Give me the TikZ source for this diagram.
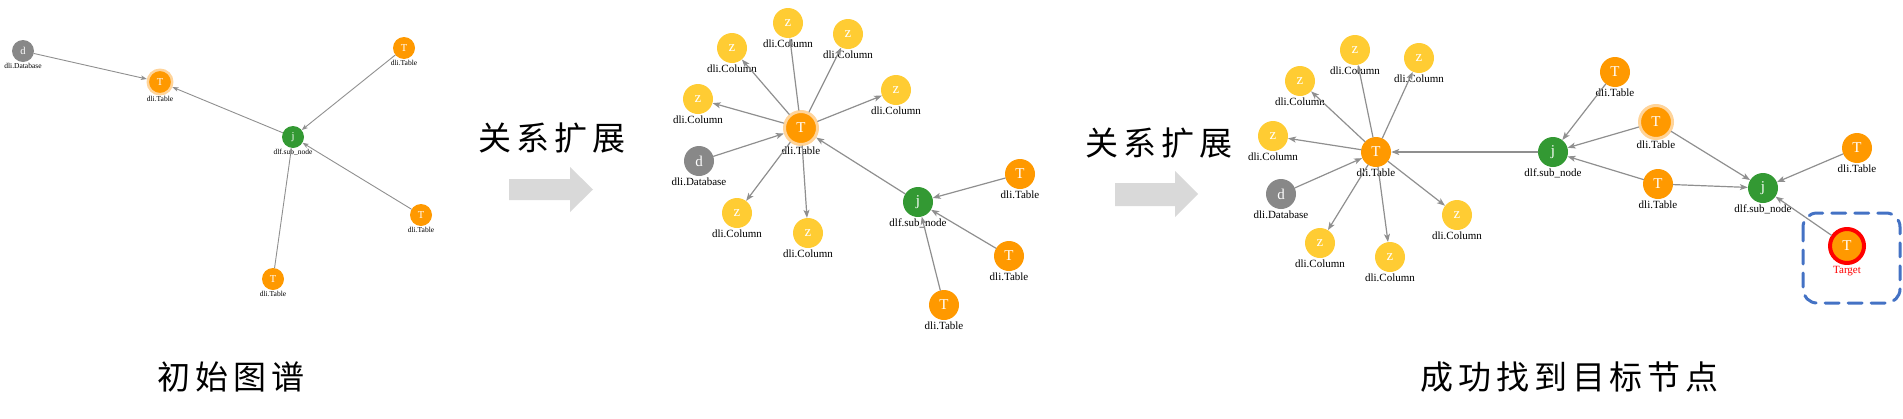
\documentclass[tikz,border=0pt]{standalone}
\usepackage{fontspec}
\setmainfont{Liberation Serif}
\newfontfamily\cjk{Noto Sans CJK SC}[LetterSpace=15]
\usepackage{xcolor}
\usetikzlibrary{arrows.meta}

\definecolor{tblorange}{HTML}{FF9900}
\definecolor{colyellow}{HTML}{FFCC33}
\definecolor{dbgray}{HTML}{888888}
\definecolor{subgreen}{HTML}{339933}
\definecolor{edgegray}{HTML}{8F8F8F}
\definecolor{haloorange}{HTML}{FFD49A}
\definecolor{boxblue}{HTML}{4472C4}
\definecolor{arrowgray}{HTML}{D9D9D9}

\tikzset{
    vert/.style={circle, inner sep=0pt, minimum size=30pt, text=white,
        font=\fontsize{15}{15}\selectfont, label distance=5pt},
    svert/.style={circle, inner sep=0pt, minimum size=22pt, text=white,
        font=\fontsize{10.5}{10.5}\selectfont, label distance=3pt},
    tbl/.style={fill=tblorange},
    col/.style={fill=colyellow},
    db/.style={fill=dbgray},
    sub/.style={fill=subgreen},
    halo/.style={draw=haloorange, line width=3pt, minimum size=33pt},
    shalo/.style={draw=haloorange, line width=2.5pt, minimum size=24.5pt},
    target/.style={draw=red, line width=4pt, minimum size=34pt},
    every label/.style={text=black, inner sep=1pt, font=\fontsize{11}{11}\selectfont},
    slbl/.style={font=\fontsize{7.5}{7.5}\selectfont},
    edge/.style={draw=edgegray, line width=1.2pt, ->, >={Stealth[length=8pt, width=6pt, inset=2pt]}},
    sedge/.style={draw=edgegray, line width=0.9pt, ->, >={Stealth[length=6pt, width=4.5pt, inset=1.5pt]}},
    caption/.style={font=\cjk\fontsize{33}{33}\selectfont, anchor=west, inner sep=0pt}
}

\begin{document}
\begin{tikzpicture}[x=1pt, y=-1pt, line cap=round, line join=round]
    \useasboundingbox (0,0) rectangle (1903,418);

    % initial graph
    \node[svert, db, label={[slbl]below:dli.Database}] (ad) at (23,51) {d};
    \node[svert, tbl, shalo, label={[slbl]below:dli.Table}] (aT) at (160,82) {T};
    \node[svert, tbl, label={[slbl]below:dli.Table}] (aT2) at (404,48) {T};
    \node[svert, sub, label={[slbl]below:dlf.sub\_node}] (aj) at (293,137) {j};
    \node[svert, tbl, label={[slbl]below:dli.Table}] (aT3) at (421,215) {T};
    \node[svert, tbl, label={[slbl]below:dli.Table}] (aT4) at (273,279) {T};

    \draw[sedge] (ad) -- (aT);
    \draw[sedge] (aj) -- (aT);
    \draw[sedge] (aT2) -- (aj);
    \draw[sedge] (aT3) -- (aj);
    \draw[sedge] (aT4) -- (aj);

    \node[caption] (cap1) at (157,377) {初始图谱};

    % first expansion step
    \node[caption] (exp1) at (478,138) {关系扩展};
    \fill[arrowgray] (509,179) -- (570,179) -- (570,167) -- (593,189.5)
        -- (570,212) -- (570,200) -- (509,200) -- cycle;

    % expanded graph
    \node[vert, tbl, halo, label={below:dli.Table}] (bT) at (801,128) {T};
    \node[vert, col, label={below:dli.Column}] (bz1) at (698,99) {z};
    \node[vert, col, label={below:dli.Column}] (bz2) at (732,48) {z};
    \node[vert, col, label={below:dli.Column}] (bz3) at (788,23) {z};
    \node[vert, col, label={below:dli.Column}] (bz4) at (848,34) {z};
    \node[vert, col, label={below:dli.Column}] (bz5) at (896,90) {z};
    \node[vert, col, label={below:dli.Column}] (bz6) at (737,213) {z};
    \node[vert, col, label={below:dli.Column}] (bz7) at (808,233) {z};
    \node[vert, db, label={below:dli.Database}] (bd) at (699,161) {d};
    \node[vert, sub, label={below:dlf.sub\_node}] (bj) at (918,202) {j};
    \node[vert, tbl, label={below:dli.Table}] (bT1) at (1020,174) {T};
    \node[vert, tbl, label={below:dli.Table}] (bT2) at (1009,256) {T};
    \node[vert, tbl, label={below:dli.Table}] (bT3) at (944,305) {T};

    \draw[edge] (bT) -- (bz1);
    \draw[edge] (bT) -- (bz2);
    \draw[edge] (bT) -- (bz3);
    \draw[edge] (bT) -- (bz4);
    \draw[edge] (bT) -- (bz5);
    \draw[edge] (bT) -- (bz6);
    \draw[edge] (bT) -- (bz7);
    \draw[edge] (bd) -- (bT);
    \draw[edge] (bj) -- (bT);
    \draw[edge] (bT1) -- (bj);
    \draw[edge] (bT2) -- (bj);
    \draw[edge] (bT3) -- (bj);

    % second expansion step
    \node[caption] (exp2) at (1085,143) {关系扩展};
    \fill[arrowgray] (1115,183) -- (1175,183) -- (1175,171) -- (1198,194)
        -- (1175,217) -- (1175,206) -- (1115,206) -- cycle;

    % graph with the target found
    \node[vert, tbl, label={below:dli.Table}] (cT) at (1376,152) {T};
    \node[vert, col, label={below:dli.Column}] (cz1) at (1273,136) {z};
    \node[vert, col, label={below:dli.Column}] (cz2) at (1300,81) {z};
    \node[vert, col, label={below:dli.Column}] (cz3) at (1355,50) {z};
    \node[vert, col, label={below:dli.Column}] (cz4) at (1419,58) {z};
    \node[vert, col, label={below:dli.Column}] (cz5) at (1320,243) {z};
    \node[vert, col, label={below:dli.Column}] (cz6) at (1390,257) {z};
    \node[vert, col, label={below:dli.Column}] (cz7) at (1457,215) {z};
    \node[vert, db, label={below:dli.Database}] (cd) at (1281,194) {d};
    \node[vert, sub, label={below:dlf.sub\_node}] (cj) at (1553,152) {j};
    \node[vert, tbl, label={below:dli.Table}] (cT1) at (1615,72) {T};
    \node[vert, tbl, halo, label={below:dli.Table}] (cT2) at (1656,122) {T};
    \node[vert, tbl, label={below:dli.Table}] (cT3) at (1658,184) {T};
    \node[vert, sub, label={below:dlf.sub\_node}] (ck) at (1763,188) {j};
    \node[vert, tbl, label={below:dli.Table}] (cT4) at (1857,148) {T};
    \node[vert, tbl, target, label={[text=red]below:Target}] (cX) at (1847,246) {T};

    \draw[edge] (cT) -- (cz1);
    \draw[edge] (cT) -- (cz2);
    \draw[edge] (cT) -- (cz3);
    \draw[edge] (cT) -- (cz4);
    \draw[edge] (cT) -- (cz5);
    \draw[edge] (cT) -- (cz6);
    \draw[edge] (cT) -- (cz7);
    \draw[edge] (cd) -- (cT);
    \draw[edge] (cj) -- (cT);
    \draw[edge] (cT1) -- (cj);
    \draw[edge] (cT2) -- (cj);
    \draw[edge] (cT3) -- (cj);
    \draw[edge] (cT2) -- (ck);
    \draw[edge] (cT3) -- (ck);
    \draw[edge] (cT4) -- (ck);
    \draw[edge] (cX) -- (ck);

    % box round the target
    \draw[boxblue, line width=3pt, dash pattern=on 14pt off 9pt, rounded corners=14pt]
        (1803,213) rectangle (1900,303);

    \node[caption] (cap2) at (1420,377) {成功找到目标节点};
\end{tikzpicture}
\end{document}
